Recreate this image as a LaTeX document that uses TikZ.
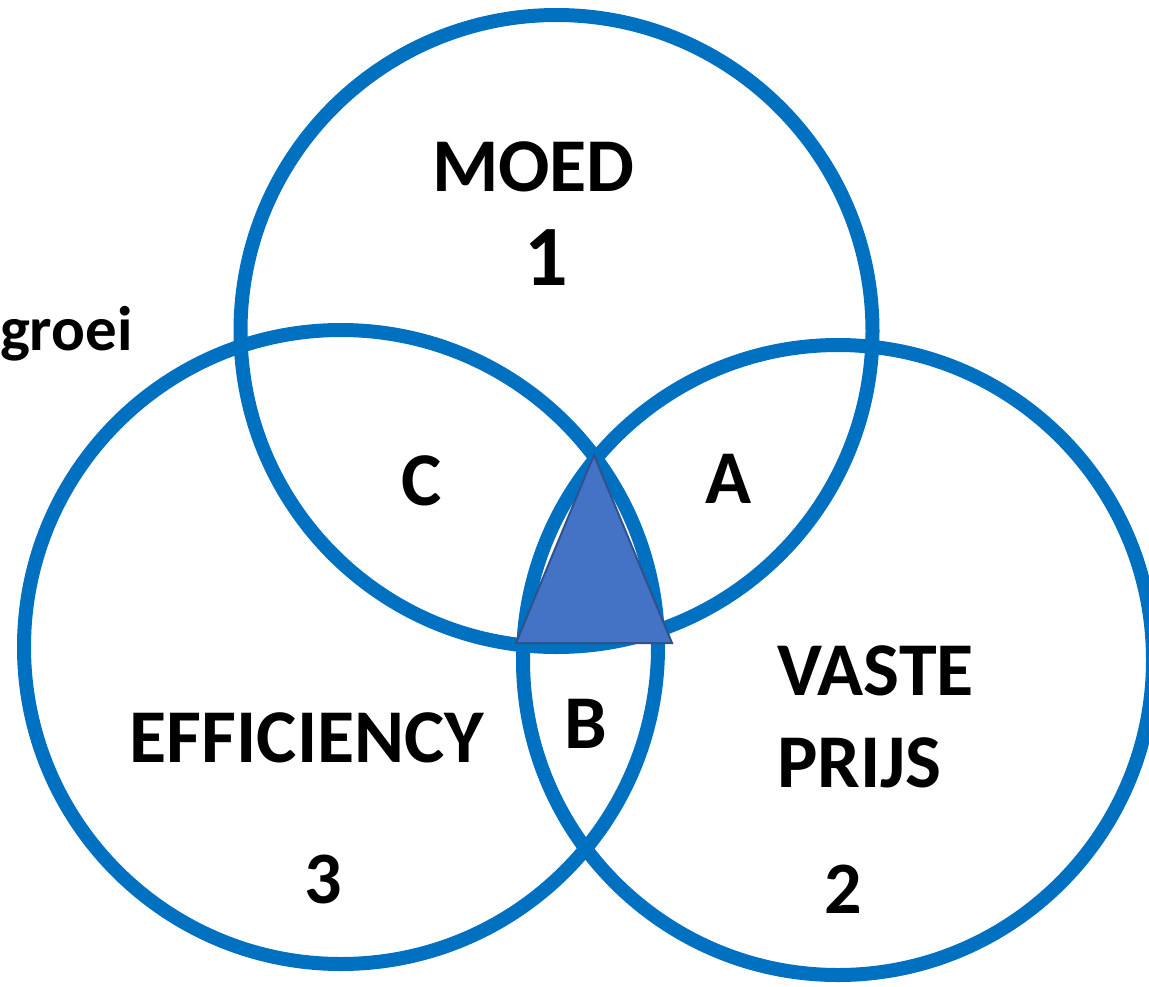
\documentclass[tikz,border=0pt]{standalone}
\usepackage{fontspec}
\setmainfont{Carlito}
\definecolor{ringblue}{HTML}{0070C0}
\definecolor{trifill}{HTML}{4472C4}
\definecolor{triedge}{HTML}{2F528F}
\tikzset{
  ring/.style={draw=ringblue, line width=14pt},
  lbl/.style={inner sep=0pt, outer sep=0pt, font=\fontsize{76}{80}\selectfont\bfseries, text=black, anchor=base},
  big/.style={lbl, font=\fontsize{86}{90}\selectfont\bfseries},
  num/.style={lbl, font=\fontsize{74}{78}\selectfont\bfseries},
  small/.style={lbl, font=\fontsize{63}{66}\selectfont\bfseries, anchor=base west},
}
\begin{document}
\begin{tikzpicture}[x=1pt, y=-1pt]
\useasboundingbox (0,0) rectangle (1149,986);
% circles
\draw[ring] (556.5,331) circle [radius=316];
\draw[ring] (341,647) circle [radius=317];
\draw[ring] (838,660) circle [radius=315];
% triangle
\draw[fill=trifill, draw=triedge, line width=2pt, line join=miter]
  (594,455) -- (516,643) -- (672,643) -- cycle;
% labels
\node[lbl] (moed) at (533.5,191) {MOED};
\node[big] (one) at (546,285) {1};
\node[lbl] (c) at (422,505) {C};
\node[lbl] (a) at (729,503) {A};
\node[lbl] (b) at (586,748) {B};
\node[lbl] (eff) at (307,762) {EFFICIENCY};
\node[num] (three) at (323,903) {3};
\node[lbl, anchor=base west] (vaste) at (777,695) {VASTE};
\node[lbl, anchor=base west] (prijs) at (777,787) {PRIJS};
\node[num] (two) at (843,913) {2};
\node[small] (groei) at (0,350) {groei};
\end{tikzpicture}
\end{document}
